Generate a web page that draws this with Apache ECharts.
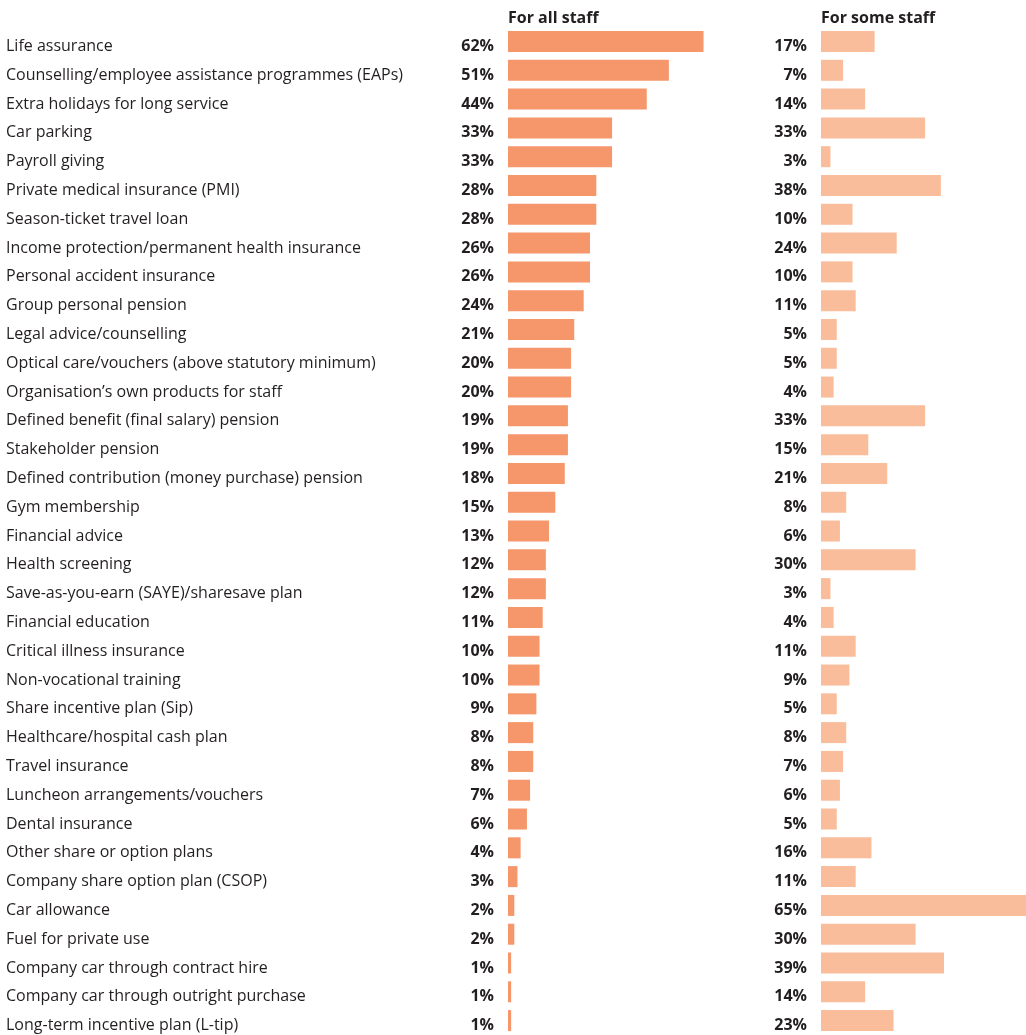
<!DOCTYPE html>
<html>
<head>
<meta charset="utf-8">
<script src="https://cdn.jsdelivr.net/npm/echarts@6/dist/echarts.min.js"></script>
<style>
  html, body { margin: 0; padding: 0; background: #fff; }
  #chart { width: 1026px; height: 1035px; }
</style>
</head>
<body>
<div id="chart"></div>
<script>
// Benefits offered, share of organisations (%)
const benefits = [
  'Life assurance',
  'Counselling/employee assistance programmes (EAPs)',
  'Extra holidays for long service',
  'Car parking',
  'Payroll giving',
  'Private medical insurance (PMI)',
  'Season-ticket travel loan',
  'Income protection/permanent health insurance',
  'Personal accident insurance',
  'Group personal pension',
  'Legal advice/counselling',
  'Optical care/vouchers (above statutory minimum)',
  'Organisation\u2019s own products for staff',
  'Defined benefit (final salary) pension',
  'Stakeholder pension',
  'Defined contribution (money purchase) pension',
  'Gym membership',
  'Financial advice',
  'Health screening',
  'Save-as-you-earn (SAYE)/sharesave plan',
  'Financial education',
  'Critical illness insurance',
  'Non-vocational training',
  'Share incentive plan (Sip)',
  'Healthcare/hospital cash plan',
  'Travel insurance',
  'Luncheon arrangements/vouchers',
  'Dental insurance',
  'Other share or option plans',
  'Company share option plan (CSOP)',
  'Car allowance',
  'Fuel for private use',
  'Company car through contract hire',
  'Company car through outright purchase',
  'Long-term incentive plan (L-tip)'
];

const forAllStaff = [62, 51, 44, 33, 33, 28, 28, 26, 26, 24, 21, 20, 20, 19, 19, 18, 15, 13, 12, 12, 11, 10, 10, 9, 8, 8, 7, 6, 4, 3, 2, 2, 1, 1, 1];
const forSomeStaff = [17, 7, 14, 33, 3, 38, 10, 24, 10, 11, 5, 5, 4, 33, 15, 21, 8, 6, 30, 3, 4, 11, 9, 5, 8, 7, 6, 5, 16, 11, 65, 30, 39, 14, 23];

const groupTitles = ['For all staff', 'For some staff'];

const TEXT = '#231f20';
const FONT = '"Open Sans", "Noto Sans", sans-serif';
const ROW = 28.8;
const TOP = 41.5 - ROW / 2;
const HEIGHT = ROW * benefits.length;

const chart = echarts.init(document.getElementById('chart'), null, { renderer: 'canvas' });

// Text sits slightly below the bar centre line, baseline near the bar's foot
const valueLabel = {
  show: true,
  position: 'left',
  distance: 14,
  offset: [0, 5],
  formatter: '{c}%',
  color: TEXT,
  fontFamily: FONT,
  fontWeight: 'bold',
  fontSize: 16
};

const headerStyle = { color: TEXT, fontFamily: FONT, fontWeight: 'bold', fontSize: 16 };

chart.setOption({
  animation: false,
  backgroundColor: '#fff',
  textStyle: { fontFamily: FONT },
  title: [
    { text: groupTitles[0], left: 508, top: 10, padding: 0, textStyle: headerStyle },
    { text: groupTitles[1], left: 821, top: 10, padding: 0, textStyle: headerStyle }
  ],
  grid: [
    { left: 508, top: TOP, width: 205, height: HEIGHT },
    { left: 821, top: TOP, width: 205, height: HEIGHT }
  ],
  xAxis: [0, 1].map(i => ({
    type: 'value', gridIndex: i, min: 0, max: 65,
    show: false
  })),
  yAxis: [
    {
      type: 'category', gridIndex: 0, data: benefits, inverse: true,
      axisLine: { show: false }, axisTick: { show: false },
      axisLabel: {
        align: 'left', margin: 502,
        verticalAlign: 'top', lineHeight: 10,
        color: TEXT, fontFamily: FONT, fontSize: 16
      }
    },
    {
      type: 'category', gridIndex: 1, data: benefits, inverse: true,
      axisLine: { show: false }, axisTick: { show: false },
      axisLabel: { show: false }
    }
  ],
  series: [
    {
      name: groupTitles[0], type: 'bar',
      xAxisIndex: 0, yAxisIndex: 0,
      data: forAllStaff,
      barWidth: 21,
      itemStyle: { color: '#f5976b' },
      label: valueLabel
    },
    {
      name: groupTitles[1], type: 'bar',
      xAxisIndex: 1, yAxisIndex: 1,
      data: forSomeStaff,
      barWidth: 21,
      itemStyle: { color: '#f9bd9b' },
      label: valueLabel
    }
  ]
});
</script>
</body>
</html>
